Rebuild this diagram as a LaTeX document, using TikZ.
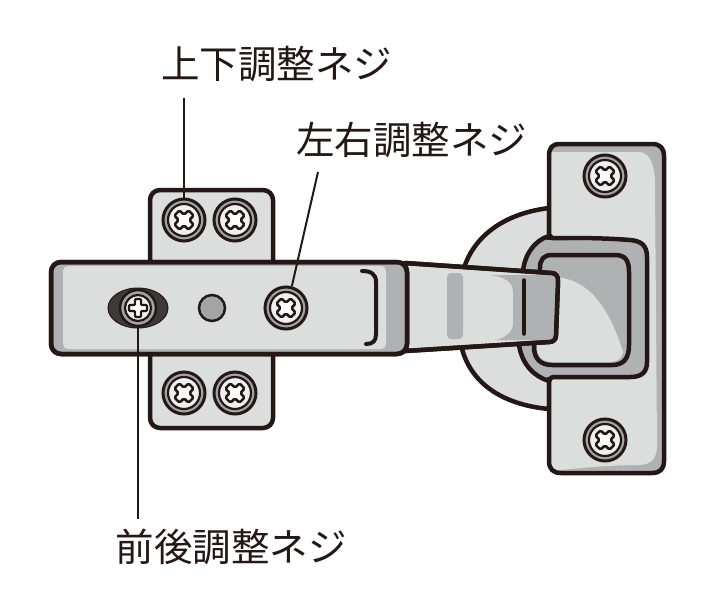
\documentclass[tikz,border=0pt]{standalone}
\usepackage{fontspec}
\newfontfamily\jpfont{Noto Sans CJK JP}
\usepackage{tikz}
\usetikzlibrary{calc}
\definecolor{inkcol}{HTML}{231815}
\definecolor{lightcol}{HTML}{DCDDDD}
\definecolor{rimcol}{HTML}{B0B1B3}
\definecolor{ringcol}{HTML}{A3A4A5}
\definecolor{slotcol}{HTML}{3E3A39}
\definecolor{headcol}{HTML}{EFEFEF}
\tikzset{
  outline/.style={draw=inkcol,line width=4.5pt,line join=round},
  leader/.style={draw=inkcol,line width=2pt},
  caption/.style={font=\jpfont\fontsize{38.5}{42}\selectfont,text=inkcol,inner sep=0pt},
  screwrim/.style={circle,draw=inkcol,fill=ringcol,line width=3pt,minimum size=42pt,inner sep=0pt},
  screwface/.style={circle,draw=inkcol,fill=headcol,line width=2.2pt,minimum size=32pt,inner sep=0pt},
  screwcross/.style={draw=inkcol,fill=white,line width=2.5pt,line join=round,rounded corners=1.5pt}
}
\newcommand{\screwhead}[3]{
\node[screwrim] (#1) at (#2) {};
\node[screwface] (#1face) at (#2) {};
\draw[screwcross,rotate around={#3:(#2)},shift={(#2)}]
  (-3.7,-10) -- (3.7,-10) -- (3.7,-3.7) -- (10,-3.7) -- (10,3.7) -- (3.7,3.7)
  -- (3.7,10) -- (-3.7,10) -- (-3.7,3.7) -- (-10,3.7) -- (-10,-3.7) -- (-3.7,-3.7) -- cycle;
}
\newcommand{\platepath}{(552,238) .. controls (549,237) and (549,234) .. (549,230) -- (549,156)
  .. controls (549,148) and (552,144) .. (560,144) -- (652,144)
  .. controls (660,144) and (664,148) .. (664,156) -- (664,461)
  .. controls (664,469) and (660,473) .. (652,473) -- (561,473)
  .. controls (553,473) and (549,469) .. (549,461) -- (549,385)
  .. controls (549,380) and (550,377) .. (554,377) -- (630,377)
  .. controls (642,377) and (647,372) .. (647,362) -- (647,257)
  .. controls (647,246) and (642,241) .. (630,240) .. controls (605,238) and (580,238) .. cycle}
\begin{document}
\begin{tikzpicture}[x=1pt,y=-1pt]
\useasboundingbox[fill=white] (0,0) rectangle (720,600);

\draw[outline,fill=lightcol] (549,208) .. controls (500,214) and (470,240) .. (462,275) -- (461,345)
  .. controls (470,385) and (505,405) .. (549,409) -- cycle;
\draw[outline,fill=rimcol] (549,236) .. controls (535,240) and (524,255) .. (523,272) -- (519,345)
  .. controls (522,365) and (535,377) .. (549,381) -- cycle;

\begin{scope}
\clip \platepath;
\fill[rimcol] (540,140) rectangle (670,480);
\fill[lightcol] (540,152) -- (640,152) .. controls (650,153) and (655,165) .. (655,185) -- (657,445)
  .. controls (657,458) and (652,464) .. (640,465) .. controls (610,465) and (580,468) .. (540,472) -- cycle;
\end{scope}
\fill[rimcol] (546,240) -- (630,241) .. controls (642,243) and (647,250) .. (647,257) -- (647,362)
  .. controls (647,372) and (642,377) .. (630,377) -- (546,377) -- cycle;
\draw[outline] \platepath;

\draw[outline,fill=rimcol] (552,255) -- (615,255) .. controls (625,255) and (629,260) .. (629,272) -- (629,345)
  .. controls (629,358) and (624,365) .. (612,365) -- (552,365) .. controls (540,365) and (534,358) .. (534,347)
  -- (540,268) .. controls (540,259) and (544,255) .. (552,255) -- cycle;
\fill[lightcol] (553,277) .. controls (590,278) and (610,310) .. (623,352) .. controls (622,358) and (618,362) .. (610,362)
  -- (552,362) .. controls (542,362) and (537,356) .. (537,347) -- (541,277) -- cycle;

\draw[outline,fill=lightcol] (405,263) -- (551,273) .. controls (556,273) and (558,276) .. (558,281) -- (556,335)
  .. controls (556,340) and (553,342) .. (549,342) -- (405,351) -- cycle;
\fill[rimcol] (490,275) .. controls (505,277) and (513,282) .. (513,292) -- (513,325)
  .. controls (512,333) and (505,338) .. (495,340) -- (549,340) .. controls (553,340) and (554,338) .. (554,335)
  -- (556,281) .. controls (556,277) and (554,275) .. (551,275) -- cycle;
\fill[rimcol,rounded corners=4pt] (447,273) rectangle (463,339);
\draw[leader,line width=3.5pt,line cap=round] (524,280) -- (524,334);
\draw[outline] (405,263) -- (551,273) .. controls (556,273) and (558,276) .. (558,281) -- (556,335)
  .. controls (556,340) and (553,342) .. (549,342) -- (405,351) -- cycle;

\draw[outline,fill=lightcol,rounded corners=10pt] (150,190) rectangle (273,428);

\draw[outline,fill=rimcol,rounded corners=10pt] (51,262) rectangle (407,354);
\fill[lightcol,rounded corners=5pt] (63,266) rectangle (386,349);
\draw[outline,rounded corners=10pt] (51,262) rectangle (407,354);
\draw[inkcol,line width=4pt,line cap=round] (362,271) .. controls (371,271) and (376,274) .. (376,282)
  -- (376,334) .. controls (376,341) and (373,344) .. (366,344);

\fill[slotcol,draw=inkcol,line width=1pt] (138,308) ellipse [x radius=30,y radius=20];
\node[screwrim,line width=2.5pt,minimum size=36pt] (slotscrew) at (138,308) {};
\node[screwface,minimum size=26pt] (slotface) at (138,308) {};
\draw[screwcross,line width=2.2pt,rounded corners=1pt,shift={(138,308)}]
  (-3,-9) -- (3,-9) -- (3,-3) -- (9,-3) -- (9,3) -- (3,3)
  -- (3,9) -- (-3,9) -- (-3,3) -- (-9,3) -- (-9,-3) -- (-3,-3) -- cycle;

\node[circle,draw=inkcol,fill=ringcol,line width=2.5pt,minimum size=26pt,inner sep=0pt] (pinhole) at (212,308) {};

\screwhead{screwa}{184,220}{45}
\screwhead{screwb}{235,220}{45}
\screwhead{screwc}{184,393}{45}
\screwhead{screwd}{235,393}{45}
\screwhead{screwe}{286,308}{45}
\screwhead{screwf}{605,176}{45}
\screwhead{screwg}{605,440}{45}

\node[caption] (updown) at (276.5,64) {上下調整ネジ};
\node[caption] (leftright) at (411.5,140) {左右調整ネジ};
\node[caption] (frontback) at (231,547) {前後調整ネジ};

\coordinate (updownend) at (184,98);
\coordinate (leftrightend) at (318,172);
\coordinate (frontbackend) at (138,519);
\draw[leader] (updownend) -- (screwa.north);
\draw[leader] (leftrightend) -- (screwe.75);
\draw[leader] (slotscrew.south) -- (frontbackend);
\end{tikzpicture}
\end{document}
